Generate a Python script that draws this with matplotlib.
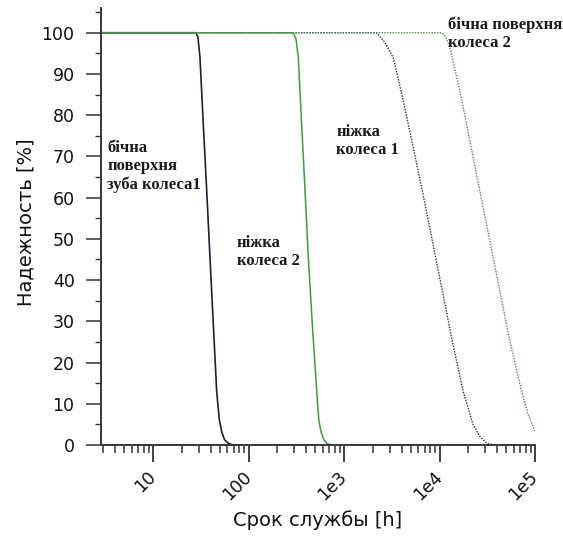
import numpy as np
import matplotlib.pyplot as plt
from matplotlib.ticker import LogLocator, FixedLocator, MultipleLocator, NullFormatter

# Данные (часы, надежность %)
t_flank1 = [2.85, 28.0, 29.5, 31.0, 33.6, 36.5, 39.5, 42.8, 46.4, 49.5, 52.4, 56.0, 61.4, 68.9]
r_flank1 = [100, 100, 99.0, 94.0, 77.7, 61.5, 45.3, 29.1, 12.9, 6.0, 3.2, 1.3, 0.4, 0.0]

t_root2 = [2.85, 294, 314, 332, 360, 391, 423, 466, 518, 545, 574, 615, 659, 743]
r_root2 = [100, 100, 98.5, 94.0, 77.7, 61.5, 45.3, 29.1, 12.9, 6.0, 3.2, 1.3, 0.4, 0.0]

t_root1 = [2.85, 2198, 2687, 3282, 3855, 4355, 5150, 6560, 8340, 10620, 13520,
           17620, 22440, 26560, 31420, 37240]
r_root1 = [100, 100, 97.6, 93.9, 87.0, 81.5, 73.6, 62.0, 50.0, 37.8, 25.5,
           13.2, 5.0, 2.0, 0.4, 0.0]

t_flank2 = [2.85, 10540, 11650, 12880, 16390, 20860, 26540, 33780, 43000, 54700, 72600, 84500, 100000]
r_flank2 = [100, 100, 99.0, 96.3, 85.8, 73.6, 61.5, 49.3, 37.2, 25.1, 12.9, 7.5, 3.2]

x_ticks = [10, 100, 1e3, 1e4, 1e5]
x_labels = ['10', '100', '1e3', '1e4', '1e5']
y_ticks = list(range(0, 101, 10))

fig = plt.figure(figsize=(5.63, 5.36), dpi=100)
ax = fig.add_axes([101/563, 1 - 445/536, 434/563, 437/536])

ax.plot(t_flank1, r_flank1, color='#20202e', linewidth=1.2)
ax.plot(t_root1, r_root1, color='#25255a', linewidth=1.0, linestyle=(0, (1, 1)))
ax.plot(t_flank2, r_flank2, color='#4f8a4f', linewidth=1.0, linestyle=(0, (1, 1)))
ax.plot(t_root2, r_root2, color='#3f9a3f', linewidth=1.1)

ax.set_xscale('log')
ax.set_xlim(2.85, 1e5)
ax.set_ylim(0, 106)

# Оси
for s in ['top', 'right']:
    ax.spines[s].set_visible(False)
for s in ['left', 'bottom']:
    ax.spines[s].set_color('#333a3a')
    ax.spines[s].set_linewidth(1.4)

ax.xaxis.set_major_locator(FixedLocator(x_ticks))
ax.set_xticklabels(x_labels)
ax.xaxis.set_minor_locator(LogLocator(base=10, subs=np.arange(2, 10)))
ax.xaxis.set_minor_formatter(NullFormatter())
ax.set_yticks(y_ticks)
ax.yaxis.set_minor_locator(MultipleLocator(5))

ax.tick_params(axis='x', which='major', length=12, width=1.3, color='#333', pad=9,
               labelsize=12.5, labelcolor='#111')
ax.tick_params(axis='x', which='minor', length=6, width=1.1, color='#333')
ax.tick_params(axis='y', which='major', length=11, width=1.1, color='#333', pad=8,
               labelsize=12.5, labelcolor='#111')
ax.tick_params(axis='y', which='minor', length=4, width=1.0, color='#333')
for lbl in ax.get_xticklabels():
    lbl.set_rotation(45)
    lbl.set_ha('right')
    lbl.set_va('center')
    lbl.set_rotation_mode('anchor')

ax.set_ylabel('Надежность [%]', fontsize=14, color='#111')
ax.set_xlabel('Срок службы [h]', fontsize=14, color='#111')
ax.yaxis.set_label_coords(-0.152, 0.51)
ax.xaxis.set_label_coords(0.5, -0.15)

# Подписи кривых
txt = dict(fontsize=12, fontweight='bold', family='Liberation Serif', color='#1a1a1a',
           va='center', linespacing=1.2)
ax.text(3.3, 67.5, 'бічна\nповерхня\nзуба колеса1', **txt)
ax.text(75, 46.8, 'ніжка\nколеса 2', **txt)
ax.text(830, 73.8, 'ніжка\nколеса 1', **txt)
ax.text(12280, 99.8, 'бічна поверхня\nколеса 2', **txt, clip_on=False)

fig.savefig('out.png', dpi=100)
